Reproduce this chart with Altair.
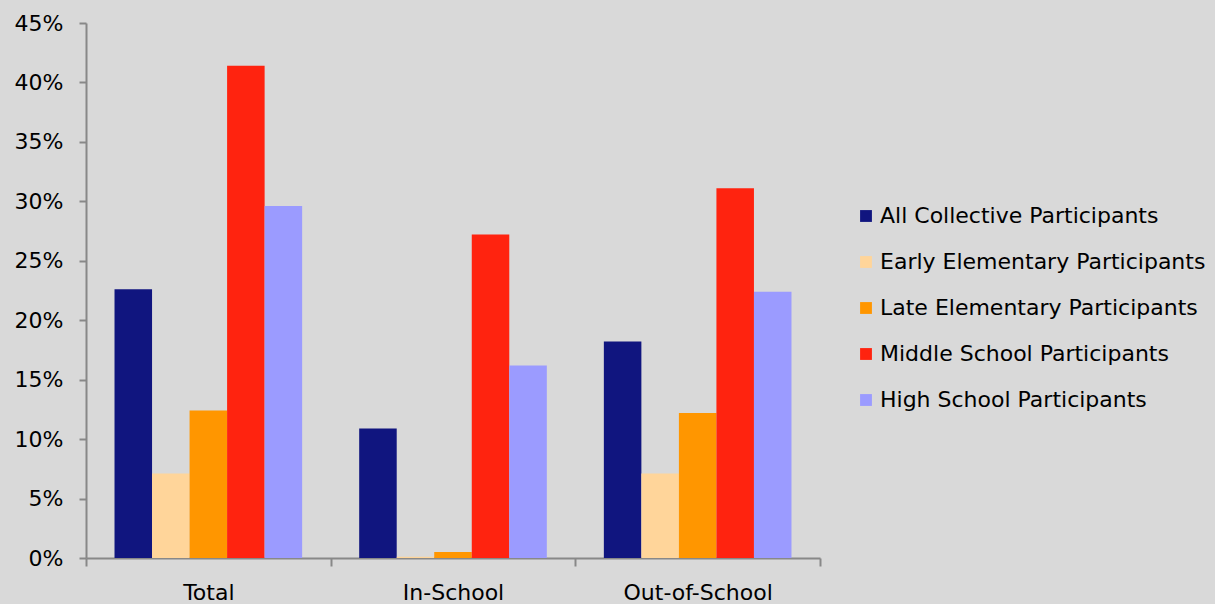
import altair as alt
import pandas as pd

# Share of participants by setting and program group
settings = ["Total", "In-School", "Out-of-School"]
groups = [
    "All Collective Participants",
    "Early Elementary Participants",
    "Late Elementary Participants",
    "Middle School Participants",
    "High School Participants",
]
colors = ["#10157f", "#ffd59a", "#ff9600", "#ff230f", "#9b9bff"]

total_vals = [0.226, 0.071, 0.124, 0.414, 0.296]
in_school_vals = [0.109, 0.001, 0.005, 0.272, 0.162]
out_school_vals = [0.182, 0.071, 0.122, 0.311, 0.224]

rows = []
for setting, vals in zip(settings, [total_vals, in_school_vals, out_school_vals]):
    for g, v in zip(groups, vals):
        rows.append({"setting": setting, "group": g, "share": v})
df = pd.DataFrame(rows)

FONT = "DejaVu Sans"

chart = (
    alt.Chart(df)
    .mark_bar()
    .encode(
        x=alt.X(
            "setting:N",
            sort=settings,
            title=None,
            scale=alt.Scale(paddingInner=0, paddingOuter=0),
            axis=alt.Axis(
                labelAngle=0,
                tickBand="extent",
                tickSize=8,
                labelPadding=16,
                domainColor="#888888",
                domainWidth=2,
                tickColor="#888888",
                tickWidth=2,
                labelColor="#000000",
                labelFontSize=22,
                labelFont=FONT,
            ),
        ),
        xOffset=alt.XOffset(
            "group:N",
            sort=groups,
            scale=alt.Scale(paddingInner=0, paddingOuter=0.76),
        ),
        y=alt.Y(
            "share:Q",
            title=None,
            scale=alt.Scale(domain=[0, 0.45], nice=False),
            axis=alt.Axis(
                values=[i * 0.05 for i in range(10)],
                format=".0%",
                grid=False,
                tickSize=7,
                labelPadding=16,
                domainColor="#888888",
                domainWidth=2,
                tickColor="#888888",
                tickWidth=2,
                labelColor="#000000",
                labelFontSize=22,
                labelFont=FONT,
            ),
        ),
        color=alt.Color(
            "group:N",
            sort=groups,
            scale=alt.Scale(domain=groups, range=colors),
            legend=alt.Legend(
                title=None,
                orient="none",
                legendX=769,
                legendY=182,
                symbolType="square",
                symbolSize=140,
                symbolStrokeWidth=0,
                symbolOpacity=1,
                rowPadding=24,
                labelOffset=3,
                labelFontSize=22,
                labelFont=FONT,
                labelColor="#000000",
                labelLimit=400,
                padding=0,
            ),
        ),
    )
    .properties(
        width=734,
        height=535,
        background="#d9d9d9",
        autosize=alt.AutoSizeParams(type="none"),
        padding={"left": 86, "top": 23, "right": 395, "bottom": 46},
    )
    .configure_view(stroke=None)
)

chart.save("out.html", embed_options={"renderer": "svg", "actions": False})
